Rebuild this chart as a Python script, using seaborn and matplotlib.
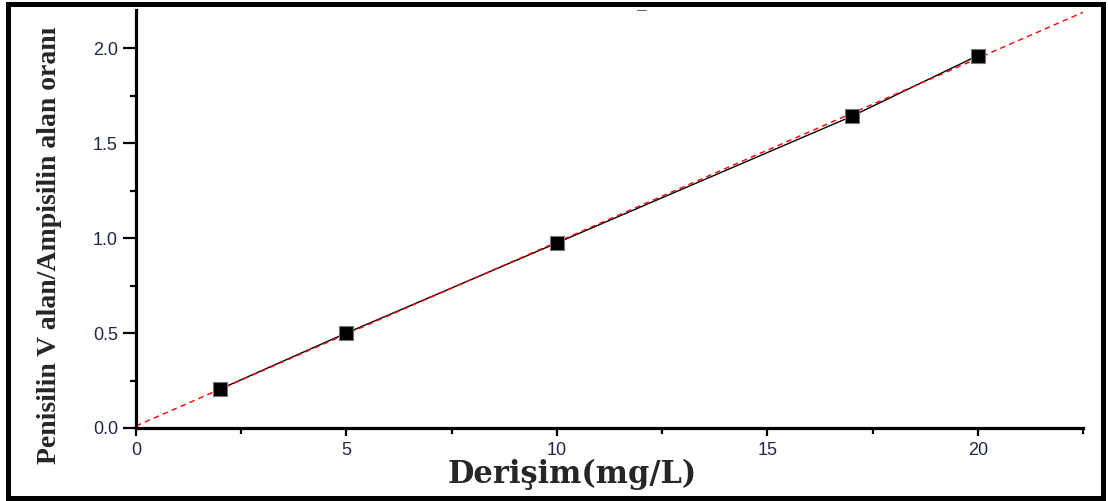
import numpy as np
import pandas as pd
import matplotlib
matplotlib.use("Agg")
import matplotlib.pyplot as plt
import seaborn as sns
from matplotlib.patches import Rectangle
from matplotlib.ticker import MultipleLocator

# ---- data ----
concentration = [2, 5, 10, 17, 20]           # mg/L
area_ratio = [0.205, 0.50, 0.974, 1.64, 1.96]
x_ticks = [0, 5, 10, 15, 20]
y_ticks = [0.0, 0.5, 1.0, 1.5, 2.0]
x_label = "Derişim(mg/L)"
y_label = "Penisilin V alan/Ampisilin alan oranı"

sns.set_theme(style="white")
plt.rcParams['font.family'] = ['Liberation Sans', 'DejaVu Sans']

df = pd.DataFrame({"x": concentration, "y": area_ratio})
slope, intercept = np.polyfit(df["x"], df["y"], 1)
fit_x = np.linspace(0, 22.5, 100)
fit_df = pd.DataFrame({"x": fit_x, "y": slope * fit_x + intercept})

fig = plt.figure(figsize=(11.08, 5.01), dpi=100)
ax = fig.add_axes([136/1108, 1-428/501, (1083-136)/1108, (428-10)/501])

# connecting black line
sns.lineplot(data=df, x="x", y="y", ax=ax, color="black", lw=1.0, sort=True)
# red dashed fit
sns.lineplot(data=fit_df, x="x", y="y", ax=ax, color="red", lw=1.0,
             linestyle=(0, (4, 3)))
# square markers
sns.scatterplot(data=df, x="x", y="y", ax=ax, marker="s", s=95,
                color="black", edgecolor="#777777", linewidth=0.8, zorder=5)

ax.set_xlim(0, 22.5)
ax.set_ylim(0, 2.2)
ax.set_xticks(x_ticks)
ax.set_yticks(y_ticks)
ax.set_xticklabels([str(v) for v in x_ticks])
ax.set_yticklabels([f"{v:.1f}" for v in y_ticks])
ax.xaxis.set_minor_locator(MultipleLocator(2.5))
ax.yaxis.set_minor_locator(MultipleLocator(0.25))

for s in ["top", "right"]:
    ax.spines[s].set_visible(False)
for s in ["left", "bottom"]:
    ax.spines[s].set_linewidth(2.3)
    ax.spines[s].set_color("black")

tick_col = "#1e2848"
ax.tick_params(axis="x", which="major", direction="out", length=6, width=1.6,
               color="black", labelsize=13, labelcolor=tick_col, pad=4, bottom=True)
ax.tick_params(axis="x", which="minor", direction="out", length=4, width=1.6,
               color="black", bottom=True)
ax.tick_params(axis="y", which="major", direction="out", length=9.5, width=1.6,
               color="black", labelsize=13, labelcolor=tick_col, pad=3.5, left=True)
ax.tick_params(axis="y", which="minor", direction="out", length=4, width=1.6,
               color="black", left=True)

ax.set_xlabel(x_label, family=["DejaVu Serif"], fontweight="bold", fontsize=22)
ax.set_ylabel(y_label, family=["Liberation Serif", "DejaVu Serif"], fontweight="bold",
              fontsize=20)
ax.xaxis.label.set_va("center")
ax.yaxis.label.set_va("center")
ax.xaxis.set_label_coords((572-136)/947, (428-474)/418)
ax.yaxis.set_label_coords((50-136)/947, (428-245)/418)

# small stray mark at top
fig.text(642/1108, 1-10/501, "—", fontsize=7, ha="center", va="center", color="#333333")

# figure frame
fig.patches.append(Rectangle((8/1108, 3.5/501), (1103-8)/1108, (497.5-3.5)/501,
                             transform=fig.transFigure, fill=False,
                             edgecolor="black", linewidth=3.6, zorder=10))

fig.savefig("out.png", dpi=100)
